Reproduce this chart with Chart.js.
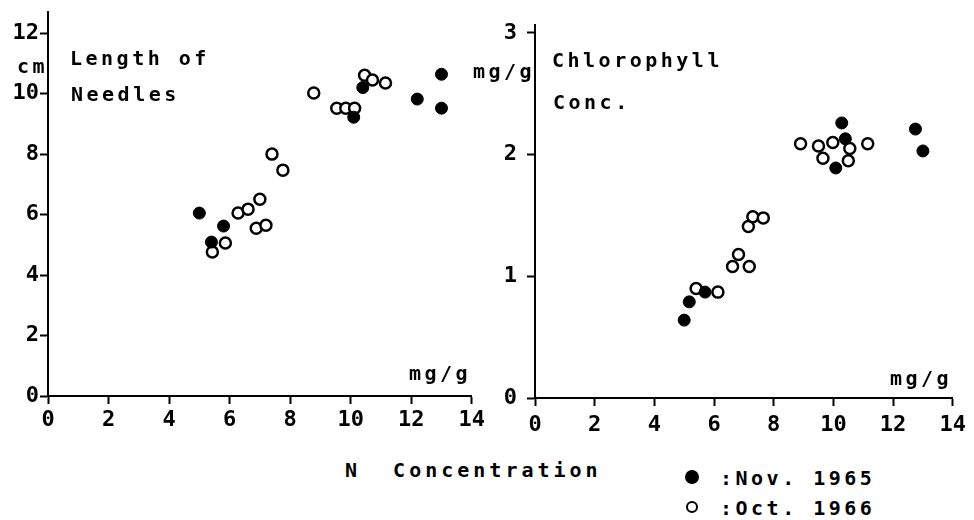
<!DOCTYPE html>
<html>
<head>
<meta charset="utf-8">
<script src="https://cdn.jsdelivr.net/npm/chart.js@4/dist/chart.umd.min.js"></script>
<style>
  body { margin: 0; background: #fff; }
  #page { position: relative; width: 974px; height: 520px; overflow: hidden; background: #fff; }
  .box { position: absolute; top: 0; height: 450px; }
  .txt { position: absolute; font-family: 'DejaVu Sans Mono', monospace; font-size: 20px; line-height: 20px;
         font-weight: bold; letter-spacing: 3.5px; white-space: pre; color: #000; }
  .dot { position: absolute; width: 12px; height: 12px; border-radius: 50%; box-sizing: border-box; }
</style>
</head>
<body>
<div id="page">
  <div class="box" style="left:0; width:490px;"><canvas id="needleChart"></canvas></div>
  <div class="box" style="left:490px; width:484px;"><canvas id="chloroChart"></canvas></div>

  <div class="txt" style="left:70px; top:48px;">Length of</div>
  <div class="txt" style="left:71px; top:84px;">Needles</div>
  <div class="txt" style="left:17px; top:56px;">cm</div>
  <div class="txt" style="left:409px; top:363px;">mg/g</div>

  <div class="txt" style="left:473px; top:61px;">mg/g</div>
  <div class="txt" style="left:552px; top:50px;">Chlorophyll</div>
  <div class="txt" style="left:553px; top:92px;">Conc.</div>
  <div class="txt" style="left:890px; top:368px;">mg/g</div>

  <div class="txt" style="left:345px; top:460px; letter-spacing:4px;">N  Concentration</div>

  <div class="dot" style="left:685px; top:470px; width:14px; height:14px; background:#000;"></div>
  <div class="txt" style="left:720px; top:468px;">:Nov. 1965</div>
  <div class="dot" style="left:686px; top:501px; border:2.5px solid #000;"></div>
  <div class="txt" style="left:720px; top:498px;">:Oct. 1966</div>
</div>

<script>
// tick labels
const xTicks = [0, 2, 4, 6, 8, 10, 12, 14];
const needleTicks = [0, 2, 4, 6, 8, 10, 12];
const chloroTicks = [0, 1, 2, 3];

// Length of needles (cm) vs N concentration (mg/g)
const needleNovX = [5.0, 5.4, 5.8, 10.1, 10.4, 12.2, 13.0, 13.0];
const needleNovY = [6.05, 5.09, 5.62, 9.22, 10.2, 9.82, 10.64, 9.52];
const needleOctX = [5.43, 5.86, 6.28, 6.61, 7.0, 6.88, 7.2, 7.4, 7.76, 8.78, 9.54, 9.84, 10.13, 10.46, 10.72, 11.15];
const needleOctY = [4.76, 5.06, 6.05, 6.18, 6.51, 5.55, 5.65, 8.0, 7.47, 10.02, 9.52, 9.52, 9.52, 10.61, 10.45, 10.35];

// Chlorophyll conc. (mg/g) vs N concentration (mg/g)
const chloroNovX = [10.28, 10.4, 10.08, 12.75, 13.0, 5.0, 5.17, 5.7];
const chloroNovY = [2.26, 2.13, 1.89, 2.21, 2.03, 0.64, 0.79, 0.87];
const chloroOctX = [8.9, 9.5, 9.65, 9.98, 10.55, 10.5, 11.15, 7.15, 7.3, 7.65, 5.4, 6.13, 6.62, 6.82, 7.18];
const chloroOctY = [2.09, 2.07, 1.97, 2.10, 2.05, 1.95, 2.09, 1.41, 1.49, 1.48, 0.90, 0.87, 1.08, 1.18, 1.08];

const FONT = 'DejaVu Sans Mono';

function pairs(xs, ys) {
    return xs.map((x, i) => ({ x: x, y: ys[i] }));
}

function makePanel(el, cfg) {
    const tickFont = { family: FONT, size: 22, weight: 'bold', lineHeight: 1 };
    return new Chart(el, {
        type: 'scatter',
        data: {
            datasets: [{
                // filled dots first so they are drawn on top
                label: 'Nov. 1965',
                data: pairs(cfg.novX, cfg.novY),
                backgroundColor: '#000',
                borderColor: '#000',
                borderWidth: 1,
                pointRadius: 6,
                pointHoverRadius: 6
            }, {
                label: 'Oct. 1966',
                data: pairs(cfg.octX, cfg.octY),
                backgroundColor: '#fff',
                borderColor: '#000',
                borderWidth: 2.5,
                pointRadius: 5.5,
                pointHoverRadius: 5.5
            }]
        },
        options: {
            responsive: true,
            maintainAspectRatio: false,
            animation: false,
            events: [],
            layout: { padding: cfg.padding },
            plugins: { legend: { display: false }, tooltip: { enabled: false } },
            scales: {
                x: {
                    type: 'linear',
                    min: 0,
                    max: 14,
                    afterBuildTicks: s => { s.ticks = xTicks.map(v => ({ value: v })); },
                    afterFit: s => { s.height = cfg.xHeight; },
                    grid: { drawOnChartArea: false, tickLength: 8, tickColor: '#000', tickWidth: 2 },
                    border: { color: '#000', width: 2 },
                    ticks: { color: '#000', padding: cfg.xPad, font: tickFont }
                },
                y: {
                    type: 'linear',
                    min: 0,
                    max: cfg.yMax,
                    afterBuildTicks: s => { s.ticks = cfg.yTicks.map(v => ({ value: v })); },
                    afterFit: s => { s.width = cfg.yWidth; },
                    grid: { drawOnChartArea: false, tickLength: 8, tickColor: '#000', tickWidth: 2 },
                    border: { color: '#000', width: 2 },
                    ticks: { color: '#000', padding: cfg.yPad, font: tickFont }
                }
            }
        }
    });
}

makePanel(document.getElementById('needleChart'), {
    novX: needleNovX, novY: needleNovY, octX: needleOctX, octY: needleOctY,
    yMax: 12.7, yTicks: needleTicks,
    padding: { top: 12, right: 17, left: 0, bottom: 0 },
    xHeight: 54, yWidth: 48, xPad: 5, yPad: 1
});

makePanel(document.getElementById('chloroChart'), {
    novX: chloroNovX, novY: chloroNovY, octX: chloroOctX, octY: chloroOctY,
    yMax: 3.065, yTicks: chloroTicks,
    padding: { top: 25, right: 14, left: 0, bottom: 0 },
    xHeight: 52, yWidth: 45, xPad: 8, yPad: 10
});
</script>
</body>
</html>
